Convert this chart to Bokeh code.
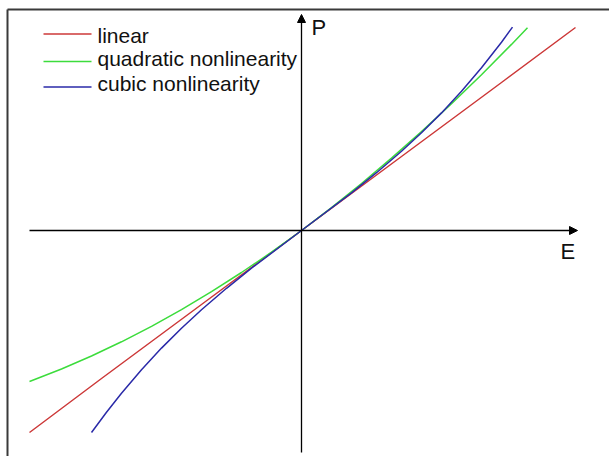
from bokeh.plotting import figure
from bokeh.models import Range1d, Label, Arrow, NormalHead
from bokeh.embed import file_html
from bokeh.resources import INLINE

# Polarisation P against field strength E (arbitrary units) for three media
e_linear = [-2.72, -2.0, -1.0, 0.0, 1.0, 2.0, 2.74]
p_linear = [-2.02, -1.48, -0.74, 0.0, 0.74, 1.48, 2.03]

e_quadratic = [-2.72, -2.4, -2.1, -1.8, -1.5, -1.2, -0.9, -0.6, -0.3, 0.0,
               0.3, 0.6, 0.9, 1.2, 1.5, 1.8, 2.1, 2.26]
p_quadratic = [-1.510, -1.385, -1.255, -1.113, -0.958, -0.791, -0.612, -0.420, -0.217, 0.0,
               0.229, 0.470, 0.724, 0.989, 1.268, 1.558, 1.861, 2.028]

e_cubic = [-2.10, -1.95, -1.8, -1.6, -1.4, -1.2, -1.0, -0.75, -0.5, 0.0,
           0.5, 0.75, 1.0, 1.2, 1.4, 1.6, 1.8, 2.0, 2.11]
p_cubic = [-2.020, -1.817, -1.627, -1.392, -1.176, -0.977, -0.792, -0.578, -0.377, 0.0,
           0.377, 0.578, 0.792, 0.977, 1.176, 1.392, 1.627, 1.883, 2.034]

series_names = ["linear", "quadratic nonlinearity", "cubic nonlinearity"]
series_colors = ["#cc3838", "#3cdc3c", "#2a2aa8"]

FONT = "Liberation Sans"

p = figure(width=609, height=456,
           x_range=Range1d(-3.01, 3.08), y_range=Range1d(-2.26, 2.30),
           output_backend="svg", toolbar_location=None, min_border=0,
           x_axis_location=None, y_axis_location=None)
p.grid.visible = False
p.outline_line_color = None
p.background_fill_color = "white"
p.border_fill_color = "white"

# surrounding frame (top and left edges)
p.line([-2.94, 3.3], [2.21, 2.21], line_color="#3a3a3a", line_width=2)
p.line([-2.94, -2.94], [2.21, -2.4], line_color="#3a3a3a", line_width=2)

# coordinate axes with arrow heads
p.add_layout(Arrow(end=NormalHead(size=8, fill_color="black", line_color="black"),
                   x_start=-2.72, y_start=0, x_end=2.76, y_end=0,
                   line_color="black", line_width=1.3))
p.add_layout(Arrow(end=NormalHead(size=8, fill_color="black", line_color="black"),
                   x_start=0, y_start=-2.22, x_end=0, y_end=2.16,
                   line_color="black", line_width=1.3))

p.add_layout(Label(x=0.10, y=1.91, text="P", text_font=FONT,
                   text_font_size="22px", text_color="#111111"))
p.add_layout(Label(x=2.59, y=-0.335, text="E", text_font=FONT,
                   text_font_size="22px", text_color="#111111"))

# curves
for xs, ys, c in zip([e_linear, e_quadratic, e_cubic],
                     [p_linear, p_quadratic, p_cubic], series_colors):
    p.line(xs, ys, line_color=c, line_width=1.5)

# legend
legend_line_y = [1.965, 1.69, 1.435]
legend_text_y = [1.837, 1.603, 1.36]
for name, c, ly, ty in zip(series_names, series_colors, legend_line_y, legend_text_y):
    p.line([-2.58, -2.10], [ly, ly], line_color=c, line_width=1.3)
    p.add_layout(Label(x=-2.04, y=ty, text=name, text_font=FONT,
                       text_font_size="21px", text_color="#111111"))

open("out.html", "w").write(file_html(p, INLINE))
